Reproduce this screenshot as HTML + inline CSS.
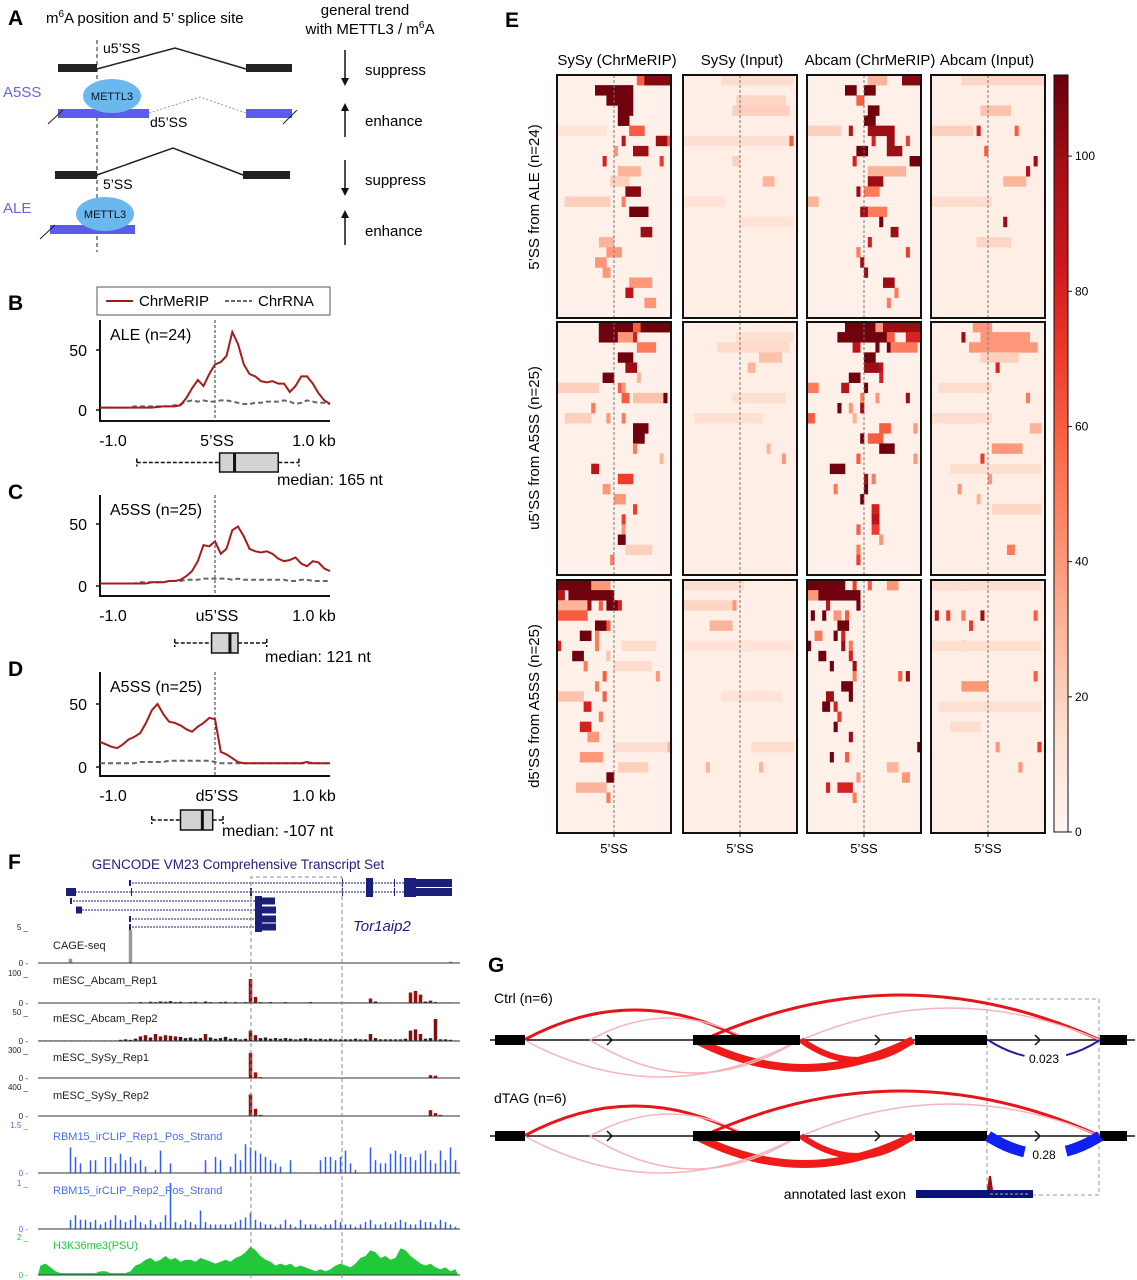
<!DOCTYPE html>
<html><head><meta charset="utf-8"><style>
html,body{margin:0;padding:0;background:#fff;}
svg{display:block;font-family:"Liberation Sans",Arial,sans-serif;}
</style></head><body>
<svg id="fig" width="1137" height="1280" viewBox="0 0 1137 1280" xmlns="http://www.w3.org/2000/svg">
<!-- Panel A -->
<g>
<text x="8" y="25" font-size="21" font-weight="bold">A</text>
<text x="46" y="23" font-size="15">m<tspan font-size="10" dy="-6">6</tspan><tspan dy="6">A position and 5’ splice site</tspan></text>
<text x="365" y="15" font-size="15" text-anchor="middle">general trend</text>
<text x="370" y="34" font-size="15" text-anchor="middle">with METTL3 / m<tspan font-size="10" dy="-6">6</tspan><tspan dy="6">A</tspan></text>
<line x1="97" y1="40" x2="97" y2="252" stroke="#222" stroke-dasharray="4,3"/>
<rect x="58" y="64" width="39" height="8" fill="#222"/>
<rect x="246" y="64" width="46" height="8" fill="#222"/>
<polyline points="97,69 175,48 246,69" fill="none" stroke="#222" stroke-width="1.5"/>
<text x="103" y="53" font-size="14">u5’SS</text>
<text x="3" y="97" font-size="15" fill="#6666dd">A5SS</text>
<rect x="58" y="109" width="91" height="9" fill="#5c5cea"/>
<line x1="48" y1="124" x2="63" y2="110" stroke="#222"/>
<rect x="246" y="109" width="46" height="9" fill="#5c5cea"/>
<line x1="283" y1="124" x2="297" y2="110" stroke="#222"/>
<polyline points="149,113 200,97 246,113" fill="none" stroke="#999" stroke-dasharray="2,2"/>
<ellipse cx="112" cy="96" rx="29" ry="17" fill="#6ab8ee"/>
<text x="112" y="100" font-size="11" text-anchor="middle" fill="#112">METTL3</text>
<text x="150" y="127" font-size="14">d5’SS</text>
<rect x="55" y="171" width="42" height="8" fill="#222"/>
<rect x="243" y="171" width="47" height="8" fill="#222"/>
<polyline points="97,175 173,148 243,175" fill="none" stroke="#222" stroke-width="1.5"/>
<text x="103" y="189" font-size="14">5’SS</text>
<text x="3" y="213" font-size="15" fill="#6666dd">ALE</text>
<rect x="50" y="225" width="85" height="9" fill="#5c5cea"/>
<line x1="40" y1="239" x2="55" y2="225" stroke="#222"/>
<ellipse cx="105" cy="214" rx="29" ry="17" fill="#6ab8ee"/>
<text x="105" y="218" font-size="11" text-anchor="middle" fill="#112">METTL3</text>
<g stroke="#111" stroke-width="1.5">
<line x1="345" y1="50" x2="345" y2="80"/><line x1="345" y1="109" x2="345" y2="137"/>
<line x1="345" y1="160" x2="345" y2="190"/><line x1="345" y1="216" x2="345" y2="245"/>
</g>
<g fill="#111"><polygon points="341,78 349,78 345,86"/><polygon points="341,111 349,111 345,103"/><polygon points="341,188 349,188 345,196"/><polygon points="341,218 349,218 345,210"/></g>
<text x="365" y="75" font-size="15">suppress</text>
<text x="365" y="126" font-size="15">enhance</text>
<text x="365" y="185" font-size="15">suppress</text>
<text x="365" y="236" font-size="15">enhance</text>
</g>
<!-- Panels B-D -->
<g id="profiles">
<text x="8" y="310" font-size="21" font-weight="bold">B</text>
<text x="8" y="499" font-size="21" font-weight="bold">C</text>
<text x="8" y="676" font-size="21" font-weight="bold">D</text>
<rect x="97" y="287" width="233" height="28" fill="#fff" stroke="#555"/>
<line x1="106" y1="301" x2="133" y2="301" stroke="#a51c1c" stroke-width="2"/>
<text x="139" y="306" font-size="15">ChrMeRIP</text>
<line x1="225" y1="301" x2="252" y2="301" stroke="#666" stroke-width="2" stroke-dasharray="4,2"/>
<text x="258" y="306" font-size="15">ChrRNA</text>
</g>
<!-- Panel E -->
<g id="heat">
<text x="505" y="27" font-size="21" font-weight="bold">E</text>
<text x="617" y="65" font-size="15" text-anchor="middle">SySy (ChrMeRIP)</text>
<text x="742" y="65" font-size="15" text-anchor="middle">SySy (Input)</text>
<text x="870" y="65" font-size="15" text-anchor="middle">Abcam (ChrMeRIP)</text>
<text x="987" y="65" font-size="15" text-anchor="middle">Abcam (Input)</text>
<text transform="translate(539,197) rotate(-90)" font-size="15" text-anchor="middle">5’SS from ALE (n=24)</text>
<text transform="translate(539,448) rotate(-90)" font-size="15" text-anchor="middle">u5’SS from A5SS (n=25)</text>
<text transform="translate(539,706) rotate(-90)" font-size="15" text-anchor="middle">d5’SS from A5SS (n=25)</text>
</g>
<!-- Panel F -->
<g id="browser">
<text x="8" y="869" font-size="21" font-weight="bold">F</text>
<text x="238" y="869" font-size="13.5" fill="#1b1f7a" text-anchor="middle">GENCODE VM23 Comprehensive Transcript Set</text>
<text x="353" y="931" font-size="15" font-style="italic" fill="#1b1f7a">Tor1aip2</text>
</g>
<!-- Panel G -->
<g id="sashimi">
<text x="488" y="972" font-size="21" font-weight="bold">G</text>
<text x="494" y="1003" font-size="14">Ctrl (n=6)</text>
<text x="494" y="1103" font-size="14">dTAG (n=6)</text>
<rect x="987" y="999" width="112" height="196" fill="none" stroke="#999" stroke-dasharray="4,3"/>
<text x="906" y="1199" font-size="14" text-anchor="end">annotated last exon</text>
<rect x="916" y="1190" width="117" height="8" fill="#0b127a"/>
<line x1="990" y1="1194" x2="1030" y2="1194" stroke="#aab" stroke-dasharray="3,2"/>
<polygon points="987,1190 989,1176 991,1176 993,1190" fill="#a01010"/>
</g>
</svg>
<script>
const NS='http://www.w3.org/2000/svg';
const svg=document.getElementById('fig');
function mk(parent,tag,attrs){const e=document.createElementNS(NS,tag);for(const k in attrs)e.setAttribute(k,attrs[k]);parent.appendChild(e);return e;}

/* ---------- Panels B-D data (41 bins, -1.0..1.0 kb) ---------- */
const bMeRIP=[2,2,2,2,2,2,2,2,2,2,2.5,3,3,3,4,10,18,25,20,30,38,40,45,65,55,38,30,28,24,23,24,22,22,15,20,28,28,22,14,8,5];
const bRNA=[2,2,2,2,2,2,3,3,3,3,3,3,3,4,5,7,8,7,8,7,7,8,8,7,6,5,5,6,6,7,7,7,8,7,5,6,8,7,6,6,5];
const cMeRIP=[2,2,2,2,2,2,2,2,2,3,3,3,4,4,5,8,12,20,33,32,36,26,30,45,48,40,30,28,27,28,26,22,20,21,23,18,16,20,19,14,12];
const cRNA=[2,2,2,2,2,2,2,3,3,3,3,3,4,4,4,5,5,5,6,6,6,6,6,5,6,5,5,5,5,5,5,5,5,4,4,5,5,4,4,4,4];
const dMeRIP=[20,18,16,15,18,22,24,27,35,45,50,42,36,35,33,30,28,32,35,39,38,12,10,7,4,3,3,3,3,3,3,3,3,3,3,3,4,3,3,3,3];
const dRNA=[3,3,3,3,3,3,3,4,4,4,4,4,5,5,5,5,5,5,5,5,4,3,3,3,3,3,3,3,3,3,3,3,3,3,3,3,3,3,3,3,3];
const yTicks=[0,50];
const xTickLabels=['-1.0','1.0 kb'];
const siteLabels=['5’SS','u5’SS','d5’SS'];
const panelTitles=['ALE (n=24)','A5SS (n=25)','A5SS (n=25)'];
const boxStats=[[-0.68,0.04,0.17,0.55,0.73],[-0.35,-0.03,0.13,0.2,0.45],[-0.55,-0.3,-0.11,-0.02,0.07]];
const medianLabels=['median: 165 nt','median: 121 nt','median: -107 nt'];
const profG=document.getElementById('profiles');
const prof=[{top:320,bot:421,y0:410,y50:350,me:bMeRIP,rn:bRNA,lab:440,box:[453,472],mx:277,my:485},
 {top:495,bot:596,y0:586,y50:524,me:cMeRIP,rn:cRNA,lab:615,box:[633,653],mx:265,my:662},
 {top:672,bot:776,y0:767,y50:704,me:dMeRIP,rn:dRNA,lab:795,box:[810,830],mx:222,my:836}];
const L=100,R=330;
function xs(kb){return L+(kb+1)/2*(R-L);}
prof.forEach((p,pi)=>{
  const ys=v=>p.y0+(p.y50-p.y0)*v/50;
  const g=mk(profG,'g',{});
  
  
  const ax=mk(g,'path',{d:`M${L},${p.top}V${p.bot}H${R}`,fill:'none',stroke:'#111','stroke-width':2});
  
  
  const dl=mk(g,'line',{x1:xs(0),x2:xs(0),y1:p.top,y2:p.bot,stroke:'#333','stroke-dasharray':'3,2'});
  
  
  yTicks.forEach(t=>{
    const tk=mk(g,'line',{x1:L-4,x2:L,y1:ys(t),y2:ys(t),stroke:'#111','stroke-width':1.5});
    
    
    const tl=mk(g,'text',{x:L-13,y:ys(t)+6,'font-size':16,'text-anchor':'end'});tl.textContent=t;
    
    
  });
  const t1=mk(g,'text',{x:113,y:p.lab+6,'font-size':16,'text-anchor':'middle'});t1.textContent=xTickLabels[0];
  
  
  const t2=mk(g,'text',{x:314,y:p.lab+6,'font-size':16,'text-anchor':'middle'});t2.textContent=xTickLabels[1];
  
  
  const t3=mk(g,'text',{x:xs(0)+2,y:p.lab+6,'font-size':16,'text-anchor':'middle'});t3.textContent=siteLabels[pi];
  
  
  const tt=mk(g,'text',{x:110,y:p.top+20,'font-size':16});tt.textContent=panelTitles[pi];
  
  
  const path=arr=>arr.map((v,i)=>(i?'L':'M')+xs(-1+i*0.05).toFixed(1)+','+ys(v).toFixed(1)).join('');
  const rn=mk(g,'path',{d:path(p.rn),fill:'none',stroke:'#666','stroke-width':2,'stroke-dasharray':'5,3'});
  
  
  const me=mk(g,'path',{d:path(p.me),fill:'none',stroke:'#a51c1c','stroke-width':2});
  
  
  const b=boxStats[pi],[by1,by2]=p.box,bm=(by1+by2)/2;
  const wh=mk(g,'path',{d:`M${xs(b[0])},${bm}H${xs(b[1])}M${xs(b[3])},${bm}H${xs(b[4])}M${xs(b[0])},${bm-4}V${bm+4}M${xs(b[4])},${bm-4}V${bm+4}`,stroke:'#111','stroke-width':1.5,'stroke-dasharray':'4,2',fill:'none'});
  
  
  const bx=mk(g,'rect',{x:xs(b[1]),y:by1,width:xs(b[3])-xs(b[1]),height:by2-by1,fill:'#d3d3d3',stroke:'#111','stroke-width':1.5});
  
  
  const md=mk(g,'line',{x1:xs(b[2]),x2:xs(b[2]),y1:by1,y2:by2,stroke:'#111','stroke-width':3});
  
  
  const ml=mk(g,'text',{x:p.mx,y:p.my,'font-size':16});ml.textContent=medianLabels[pi];
  
  
});

/* ---------- Panel E data: hot spots [row, colStart, colEnd, value] ---------- */
const heatRows=[24,25,25];
const heatCols=30;
const baseVals=[3,5,3,5];
const ale_sysyMe=[[0,21,22,60],[0,23,29,105],[1,10,19,110],[2,13,19,110],[3,16,19,110],[4,16,18,110],[5,19,22,60],[5,0,12,12],[6,17,17,90],[6,26,28,100],[6,29,29,60],[7,20,23,100],[7,15,15,40],[8,12,12,80],[8,27,27,70],[9,16,21,30],[10,14,18,20],[11,18,21,105],[12,2,13,20],[12,17,17,50],[13,19,23,110],[15,22,24,100],[16,11,14,30],[17,13,16,40],[18,10,12,40],[19,12,13,40],[20,19,24,40],[21,18,19,90],[22,23,25,40]];
const ale_sysyIn=[[0,10,28,15],[2,14,26,18],[3,13,27,20],[6,0,28,14],[6,28,28,60],[8,13,14,20],[10,21,23,30],[12,0,10,12],[14,15,28,12]];
const ale_abMe=[[0,25,29,105],[0,16,20,30],[1,10,12,110],[1,15,17,110],[2,13,14,60],[3,16,18,110],[4,15,17,110],[5,0,8,20],[5,11,11,90],[5,16,22,100],[6,17,17,80],[6,21,22,100],[6,26,26,70],[7,13,15,110],[7,21,24,100],[8,12,12,80],[8,27,29,110],[9,16,25,30],[10,16,19,100],[11,13,13,100],[11,15,18,50],[12,0,2,30],[13,14,15,100],[13,16,20,50],[14,19,19,110],[15,22,23,100],[16,16,16,80],[17,13,13,50],[17,26,26,70],[18,14,14,100],[19,15,15,100],[20,20,22,100],[21,23,23,50],[22,21,21,50]];
const ale_abIn=[[0,8,29,18],[3,13,20,25],[5,0,10,20],[5,12,12,80],[5,22,22,60],[7,14,14,60],[8,27,27,100],[9,25,25,90],[10,19,24,30],[12,0,15,15],[14,19,19,100],[16,12,20,18]];
const u5_sysyMe=[[0,11,19,110],[0,20,21,60],[0,22,29,110],[1,11,15,110],[1,16,19,40],[1,20,20,80],[2,21,25,50],[3,16,19,110],[4,18,20,100],[5,12,14,110],[5,21,21,30],[6,0,10,20],[6,16,16,60],[6,17,17,40],[7,17,18,60],[7,20,27,25],[7,28,28,110],[8,9,9,50],[9,2,8,20],[9,13,13,40],[9,17,17,50],[10,20,23,110],[11,20,22,110],[12,20,20,50],[13,27,27,30],[14,9,10,90],[15,16,19,70],[16,12,13,40],[17,15,17,40],[18,20,20,70],[19,17,17,70],[20,17,17,40],[21,16,17,110],[22,18,24,20],[23,14,14,50]];
const u5_sysyIn=[[1,14,28,14],[2,9,27,16],[3,20,25,25],[4,17,18,30],[7,13,26,14],[9,3,20,14],[12,22,22,30],[13,26,26,40]];
const u5_abMe=[[0,10,17,110],[0,18,19,40],[0,20,29,100],[1,8,18,110],[1,19,20,110],[1,21,22,60],[1,26,29,80],[2,12,13,90],[2,18,18,110],[2,21,21,110],[2,22,28,50],[3,15,17,110],[4,15,18,100],[4,19,19,90],[5,11,13,110],[5,19,19,80],[6,0,2,50],[6,9,10,90],[6,15,15,110],[7,14,14,50],[7,18,18,40],[7,26,26,100],[8,8,8,110],[8,14,14,100],[8,11,11,40],[9,0,1,60],[9,12,12,30],[10,19,21,60],[10,28,28,40],[11,14,14,110],[11,16,19,60],[12,19,22,110],[13,13,13,60],[13,28,28,40],[14,6,9,110],[15,15,15,100],[15,17,17,50],[16,7,7,50],[16,15,15,110],[17,14,14,110],[18,17,18,80],[19,17,18,90],[20,13,13,60],[20,17,18,70],[21,19,19,40],[22,13,13,50],[23,13,13,70]];
const u5_abIn=[[0,11,15,40],[1,8,8,100],[1,13,25,40],[2,10,27,40],[3,13,22,20],[4,17,17,80],[6,2,15,15],[7,25,25,50],[9,0,15,15],[10,26,28,30],[12,16,23,40],[13,13,13,70],[14,5,28,14],[15,15,15,40],[16,7,7,40],[17,12,12,30],[18,16,28,18],[22,20,21,50]];
const d5_sysyMe=[[0,0,8,110],[0,9,13,40],[1,0,1,90],[1,3,14,110],[2,0,7,30],[2,8,8,100],[2,11,11,60],[2,13,15,110],[2,16,16,80],[3,0,7,60],[4,10,12,110],[4,13,13,60],[5,6,8,110],[5,10,10,50],[6,0,0,80],[6,10,10,50],[6,17,25,15],[7,4,6,110],[7,13,13,25],[8,7,7,50],[8,15,24,15],[9,12,12,60],[9,26,26,40],[10,10,10,50],[11,0,6,25],[11,12,12,60],[12,7,8,80],[13,11,11,50],[14,6,8,80],[15,8,10,40],[16,29,29,30],[16,15,28,14],[17,6,11,40],[18,16,23,20],[19,13,14,110],[20,5,12,30],[21,13,13,50]];
const d5_sysyIn=[[0,0,15,14],[2,0,13,18],[2,13,13,40],[4,7,12,30],[6,15,17,30],[6,0,28,12],[11,10,25,12],[16,18,28,15],[18,6,6,30],[18,20,20,30]];
const d5_abMe=[[0,0,9,110],[0,12,12,70],[0,16,16,60],[0,21,23,40],[1,0,2,40],[1,3,13,110],[2,5,5,90],[2,13,13,110],[3,1,1,110],[3,4,4,110],[3,7,8,40],[3,10,10,60],[4,8,10,110],[5,2,3,50],[5,7,7,110],[5,9,9,80],[6,0,0,110],[6,9,9,100],[6,11,11,50],[7,3,4,110],[7,11,11,80],[8,6,6,110],[8,12,12,100],[9,12,12,50],[9,24,24,60],[9,26,26,100],[10,9,11,110],[11,5,6,100],[11,11,11,110],[12,4,5,110],[12,7,7,80],[13,8,8,70],[14,7,7,110],[15,11,11,100],[16,29,29,110],[17,6,6,110],[17,10,10,60],[18,21,23,30],[19,13,13,40],[19,25,26,40],[20,5,5,80],[20,8,11,80],[21,12,12,50]];
const d5_abIn=[[0,1,1,70],[0,4,4,60],[0,8,8,70],[0,12,12,60],[0,0,28,14],[3,1,1,90],[3,4,4,70],[3,8,8,50],[3,13,13,100],[3,27,27,60],[4,10,10,70],[6,8,8,70],[6,0,28,14],[9,27,27,60],[10,8,14,40],[12,2,28,14],[14,5,12,15],[16,28,28,70],[16,17,17,40],[18,23,23,40]];
const heatData=[[ale_sysyMe,ale_sysyIn,ale_abMe,ale_abIn],[u5_sysyMe,u5_sysyIn,u5_abMe,u5_abIn],[d5_sysyMe,d5_sysyIn,d5_abMe,d5_abIn]];
const cbTicks=[0,20,40,60,80,100];
const VMAX=112;
const stops=['#fff5f0','#fee0d2','#fcbba1','#fc9272','#fb6a4a','#ef3b2c','#cb181d','#a50f15','#67000d'];
function hex(h){return [1,3,5].map(i=>parseInt(h.substr(i,2),16));}
function cmap(v){let t=Math.max(0,Math.min(1,v/VMAX))*(stops.length-1);const i=Math.min(stops.length-2,Math.floor(t)),f=t-i;const a=hex(stops[i]),b=hex(stops[i+1]);return 'rgb('+a.map((c,k)=>Math.round(c+(b[k]-c)*f)).join(',')+')';}
const heatG=document.getElementById('heat');
const hx=[557,683,807,931],hw=114,hy=[75,322,580],hh=[243,253,253];
heatData.forEach((row,ri)=>row.forEach((spots,ci)=>{
  const g=mk(heatG,'g',{});
  
  
  const x0=hx[ci],y0=hy[ri],n=heatRows[ri],cw=hw/heatCols,rh=hh[ri]/n;
  const bg=mk(g,'rect',{x:x0,y:y0,width:hw,height:hh[ri],fill:cmap(baseVals[ci])});
  
  
  spots.forEach(s=>{
    const c=mk(g,'rect',{x:(x0+s[1]*cw).toFixed(2),y:(y0+s[0]*rh).toFixed(2),width:((s[2]-s[1]+1)*cw+0.3).toFixed(2),height:(rh+0.3).toFixed(2),fill:cmap(s[3])});
    
    
  });
  const dl=mk(g,'line',{x1:x0+hw/2,x2:x0+hw/2,y1:y0,y2:y0+hh[ri],stroke:'#777','stroke-dasharray':'3,2'});
  
  
  const fr=mk(g,'rect',{x:x0,y:y0,width:hw,height:hh[ri],fill:'none',stroke:'#111','stroke-width':2});
  
  
  if(ri===2){
    const tk=mk(g,'line',{x1:x0+hw/2,x2:x0+hw/2,y1:833,y2:837,stroke:'#111'});
    
    
    const tl=mk(g,'text',{x:x0+hw/2,y:853,'font-size':13,'text-anchor':'middle'});tl.textContent='5’SS';
    
    
  }
}));
// colorbar
const defs=mk(svg,'defs',{});
const lg=mk(defs,'linearGradient',{id:'cbg',x1:0,y1:1,x2:0,y2:0});
stops.forEach((s,i)=>mk(lg,'stop',{offset:i/(stops.length-1),'stop-color':s}));
const cbTop=75,cbBot=832,cbScale=(cbBot-cbTop)/VMAX;
const cb=mk(heatG,'rect',{x:1054,y:cbTop,width:14,height:cbBot-cbTop,fill:'url(#cbg)',stroke:'#111','stroke-width':1});


cbTicks.forEach(t=>{
  const y=cbBot-t*cbScale;
  const tk=mk(heatG,'line',{x1:1068,x2:1072,y1:y,y2:y,stroke:'#111'});
  
  
  const tl=mk(heatG,'text',{x:1075,y:y+4,'font-size':12});tl.textContent=t;
  
  
});

/* ---------- Panel F data: 84 bins, 5px each from x=38 ---------- */
const cage=[0,0,0,0,0,0,0.6,0,0,0,0,0,0,0,0,0,0,0,4.6,0,0,0,0,0,0,0,0,0,0,0,0,0,0,0,0,0,0,0,0,0,0,0,0,0,0,0,0,0,0,0,0,0,0,0,0,0,0,0,0,0,0,0,0,0,0,0,0,0,0,0,0,0,0,0,0,0,0,0,0,0,0,0,0.2,0];
const abcam1=[1,1,1,1,1,1,1,1,1,1,1,1,1,1,1,1,1,1,2,1,3,2,4,3,5,4,6,3,4,2,3,4,2,5,3,2,3,4,2,3,2,3,80,20,3,2,3,2,2,3,2,2,2,2,3,2,2,2,2,2,2,2,2,2,2,2,15,5,2,2,2,2,2,2,35,40,28,5,8,3,2,2,2,1];
const abcam2=[1,1,1,1,1,1,1,1,1,1,1,1,1,1,1,1,2,3,2,4,8,10,6,12,8,10,9,8,7,5,6,4,5,12,6,4,5,7,4,5,3,4,18,10,5,6,4,5,4,5,4,3,4,5,4,3,4,3,4,3,3,3,3,4,3,3,12,5,3,3,3,3,3,4,18,20,12,4,5,38,3,3,2,1];
const sysy1=[1,1,1,1,1,1,2,2,2,2,2,2,2,2,2,3,2,2,2,2,3,2,2,2,3,2,2,2,2,2,2,3,2,2,2,2,2,2,2,2,2,3,270,60,10,2,2,2,2,2,2,2,2,2,2,2,2,2,2,2,2,2,2,2,2,2,2,2,2,2,2,2,2,2,2,2,2,2,30,25,3,2,2,1];
const sysy2=[1,1,1,1,1,1,2,2,2,2,2,2,2,2,2,2,2,2,2,2,2,2,2,2,2,2,2,2,2,2,2,2,2,2,2,2,2,2,2,2,2,3,300,100,15,2,2,2,2,2,2,2,2,2,2,2,2,2,2,2,2,2,2,2,2,2,2,2,2,2,2,2,2,2,2,2,2,2,80,40,15,2,2,1];
const rbm1=[0,0,0,0,0,0,0.8,0.5,0.3,0,0.4,0.4,0,0.5,0.5,0.3,0.6,0.4,0.5,0.3,0.4,0.2,0,0.1,0.7,0,0.3,0,0,0,0,0,0,0.4,0,0.5,0.4,0,0.2,0.6,0.4,0.9,0.8,0.7,0.6,0.5,0.4,0.3,0.2,0,0.4,0,0,0,0,0,0.4,0.5,0.5,0.4,0.5,0.7,0.3,0.1,0,0,0.8,0.4,0.3,0.3,0.6,0.7,0.6,0.5,0.5,0.4,0.6,0.7,0.4,0.3,0.7,0.4,0.8,0.4];
const rbm2=[0,0,0,0,0,0,0.2,0.3,0.2,0.2,0.15,0.2,0.1,0.15,0.2,0.3,0.2,0.15,0.2,0.3,0.15,0.1,0.2,0.1,0.15,0.3,1.0,0.15,0.1,0.2,0.15,0.1,0.4,0.15,0.1,0.1,0.1,0.1,0.1,0.15,0.2,0.25,0.35,0.2,0.15,0.1,0.1,0.05,0.1,0.2,0.1,0.05,0.2,0.1,0.1,0.1,0.05,0.1,0.1,0.2,0.15,0.1,0.1,0.05,0.1,0.15,0.2,0.1,0.1,0.15,0.1,0.15,0.2,0.15,0.1,0.1,0.2,0.15,0.15,0.1,0.2,0.15,0.1,0.05];
const h3k36=[0.5,0.6,0.4,0.2,0.1,0.1,0.1,0.1,0.1,0.1,0.1,0.1,0.2,0.2,0.1,0.1,0.1,0.1,0.2,0.5,0.6,0.8,0.9,0.7,0.8,1.0,0.8,0.9,0.7,0.8,0.8,0.7,0.9,0.8,0.7,0.6,0.7,0.8,0.7,0.9,1.0,1.2,1.5,1.3,1.0,0.8,0.7,0.5,0.6,0.5,0.6,0.4,0.5,0.4,0.3,0.2,0.3,0.2,0.3,0.5,0.6,0.5,0.4,0.6,0.9,1.0,1.3,1.2,0.9,1.0,0.8,0.9,1.4,1.3,1.0,0.8,0.6,0.5,0.6,0.4,0.3,0.4,0.2,0.3];
const trackNames=['CAGE-seq','mESC_Abcam_Rep1','mESC_Abcam_Rep2','mESC_SySy_Rep1','mESC_SySy_Rep2','RBM15_irCLIP_Rep1_Pos_Strand','RBM15_irCLIP_Rep2_Pos_Strand','H3K36me3(PSU)'];
const trackMax=['5','100','50','300','400','1.5','1','2'];
const trackMaxVal=[5,100,50,300,400,1.5,1,2];
const brG=document.getElementById('browser');
const tracks=[{d:cage,top:927,base:963,c:'#999',tc:'#222',lab:945},{d:abcam1,top:973,base:1003,c:'#9b0f0f',tc:'#222',lab:980},
 {d:abcam2,top:1012,base:1041,c:'#7a1010',tc:'#222',lab:1018},{d:sysy1,top:1050,base:1078,c:'#9b0f0f',tc:'#222',lab:1057},
 {d:sysy2,top:1087,base:1116,c:'#9b0f0f',tc:'#222',lab:1095},{d:rbm1,top:1125,base:1173,c:'#2f5ef0',tc:'#4a6ef0',lab:1136},
 {d:rbm2,top:1183,base:1229,c:'#2f5ef0',tc:'#4a6ef0',lab:1190},{d:h3k36,top:1237,base:1275,c:'#1fc93a',tc:'#1fc93a',lab:1245}];
tracks.forEach((t,ti)=>{
  const g=mk(brG,'g',{});
  
  
  const sc=(t.base-t.top)/trackMaxVal[ti];
  if(ti===7){
    let d=`M38,${t.base}`;t.d.forEach((v,i)=>{d+=`L${38+5*i+2.5},${(t.base-v*sc).toFixed(1)}`;});d+=`L458,${t.base}Z`;
    const a=mk(g,'path',{d,fill:t.c});
    
    
  } else {
    t.d.forEach((v,i)=>{
      if(v<=0)return;
      const w=(ti>=5)?1.5:3.5;
      const r=mk(g,'rect',{x:38+5*i+(5-w)/2,y:(t.base-v*sc).toFixed(1),width:w,height:(v*sc).toFixed(1),fill:(ti>=1&&ti<=4&&v<8)?'#222':t.c});
      
      
    });
  }
  const bl=mk(g,'line',{x1:38,x2:460,y1:t.base,y2:t.base,stroke:'#333','stroke-width':1});
  
  
  const nm=mk(g,'text',{x:53,y:t.lab+4,'font-size':11,fill:t.tc});nm.textContent=trackNames[ti];
  
  
  const mx=mk(g,'text',{x:28,y:t.top+3,'font-size':8,fill:t.tc,'text-anchor':'end'});mx.textContent=trackMax[ti]+' _';
  
  
  const z=mk(g,'text',{x:28,y:t.base+3,'font-size':8,fill:t.tc,'text-anchor':'end'});z.textContent='0 -';
  
  
});
// transcripts: [y, lineStart, lineEnd, exons [x1,x2,height]]
const transcripts=[[883,129,452,[[129,131,6],[342,343,8],[366,373,10],[394,395,8],[404,416,10],[416,452,8]]],
 [892,66,452,[[66,76,8],[131,132,8],[250,252,8],[342,343,8],[366,373,10],[394,395,8],[404,416,10],[416,452,8]]],
 [901,70,275,[[70,72,6],[255,262,10],[262,275,7]]],
 [910,76,276,[[76,82,7],[255,262,10],[262,276,7]]],
 [919,129,276,[[129,131,6],[255,262,10],[262,276,7]]],
 [927,129,276,[[129,131,6],[255,262,10],[262,276,7]]]];
transcripts.forEach(tr=>{
  const g=mk(brG,'g',{});
  
  
  const ln=mk(g,'line',{x1:tr[1],x2:tr[2],y1:tr[0],y2:tr[0],stroke:'#1b1f7a','stroke-width':1,'stroke-dasharray':'2,1'});
  
  
  tr[3].forEach(e=>{
    const r=mk(g,'rect',{x:e[0],y:tr[0]-e[2]/2,width:e[1]-e[0],height:e[2],fill:'#1b1f7a'});
    
    
  });
});
const fbox=mk(brG,'path',{d:'M251,1278V877H342V1278',fill:'none',stroke:'#888','stroke-dasharray':'4,3'});



/* ---------- Panel G data ---------- */
const exonsG=[[495,525],[693,800],[915,987],[1100,1127]];
// arcs: [x1, x2, peakOffset (negative=above), width, color]
const arcsCtrl=[[524,745,-30,3,'#e8141b'],[590,749,-22,1.5,'#f7b3bb'],[703,1100,-45,3,'#e8141b'],[801,1100,-32,1.5,'#f7b3bb'],[696,913,28,8,'#ef1b1b'],[801,913,20,6,'#ef1b1b'],[524,799,37,1.5,'#f7b3bb'],[590,799,33,1.5,'#f7b3bb']];
const arcsDtag=[[524,745,-30,3,'#e8141b'],[590,749,-22,1.5,'#f7b3bb'],[703,1100,-45,3,'#e8141b'],[801,1100,-32,1.5,'#f7b3bb'],[696,913,28,8,'#ef1b1b'],[801,913,20,6,'#ef1b1b'],[524,799,37,1.5,'#f7b3bb'],[590,799,33,1.5,'#f7b3bb']];
const psiVals=[0.023,0.28];
const psiWidths=[2,11];
const gG=document.getElementById('sashimi');
[[1040,arcsCtrl],[1136,arcsDtag]].forEach(([y,arcs],si)=>{
  const g=mk(gG,'g',{});
  
  
  const bb=mk(g,'line',{x1:490,x2:1135,y1:y,y2:y,stroke:'#111','stroke-width':1.5});
  
  
  [612,880,1040].forEach(ax=>{
    const ar=mk(g,'path',{d:`M${ax-5},${y-5}L${ax},${y}L${ax-5},${y+5}`,fill:'none',stroke:'#111','stroke-width':1.5});
    
    
  });
  arcs.forEach(a=>{
    const mx=(a[0]+a[1])/2;
    const p=mk(g,'path',{d:`M${a[0]},${y}Q${mx},${y+a[2]*2} ${a[1]},${y}`,fill:'none',stroke:a[4],'stroke-width':a[3]});
    
    
  });
  exonsG.forEach(e=>{
    const r=mk(g,'rect',{x:e[0],y:y-5,width:e[1]-e[0],height:10,fill:'#000'});
    
    
  });
  const bl=mk(g,'path',{d:`M988,${y}Q1044,${y+36} 1100,${y}`,fill:'none',stroke:si?'#1020f0':'#2a1a9a','stroke-width':psiWidths[si],'stroke-dasharray':'40,42,60'});
  
  
  const pl=mk(g,'text',{x:1044,y:y+23,'font-size':12,'text-anchor':'middle'});pl.textContent=psiVals[si];
  
  
});
</script>
</body></html>
